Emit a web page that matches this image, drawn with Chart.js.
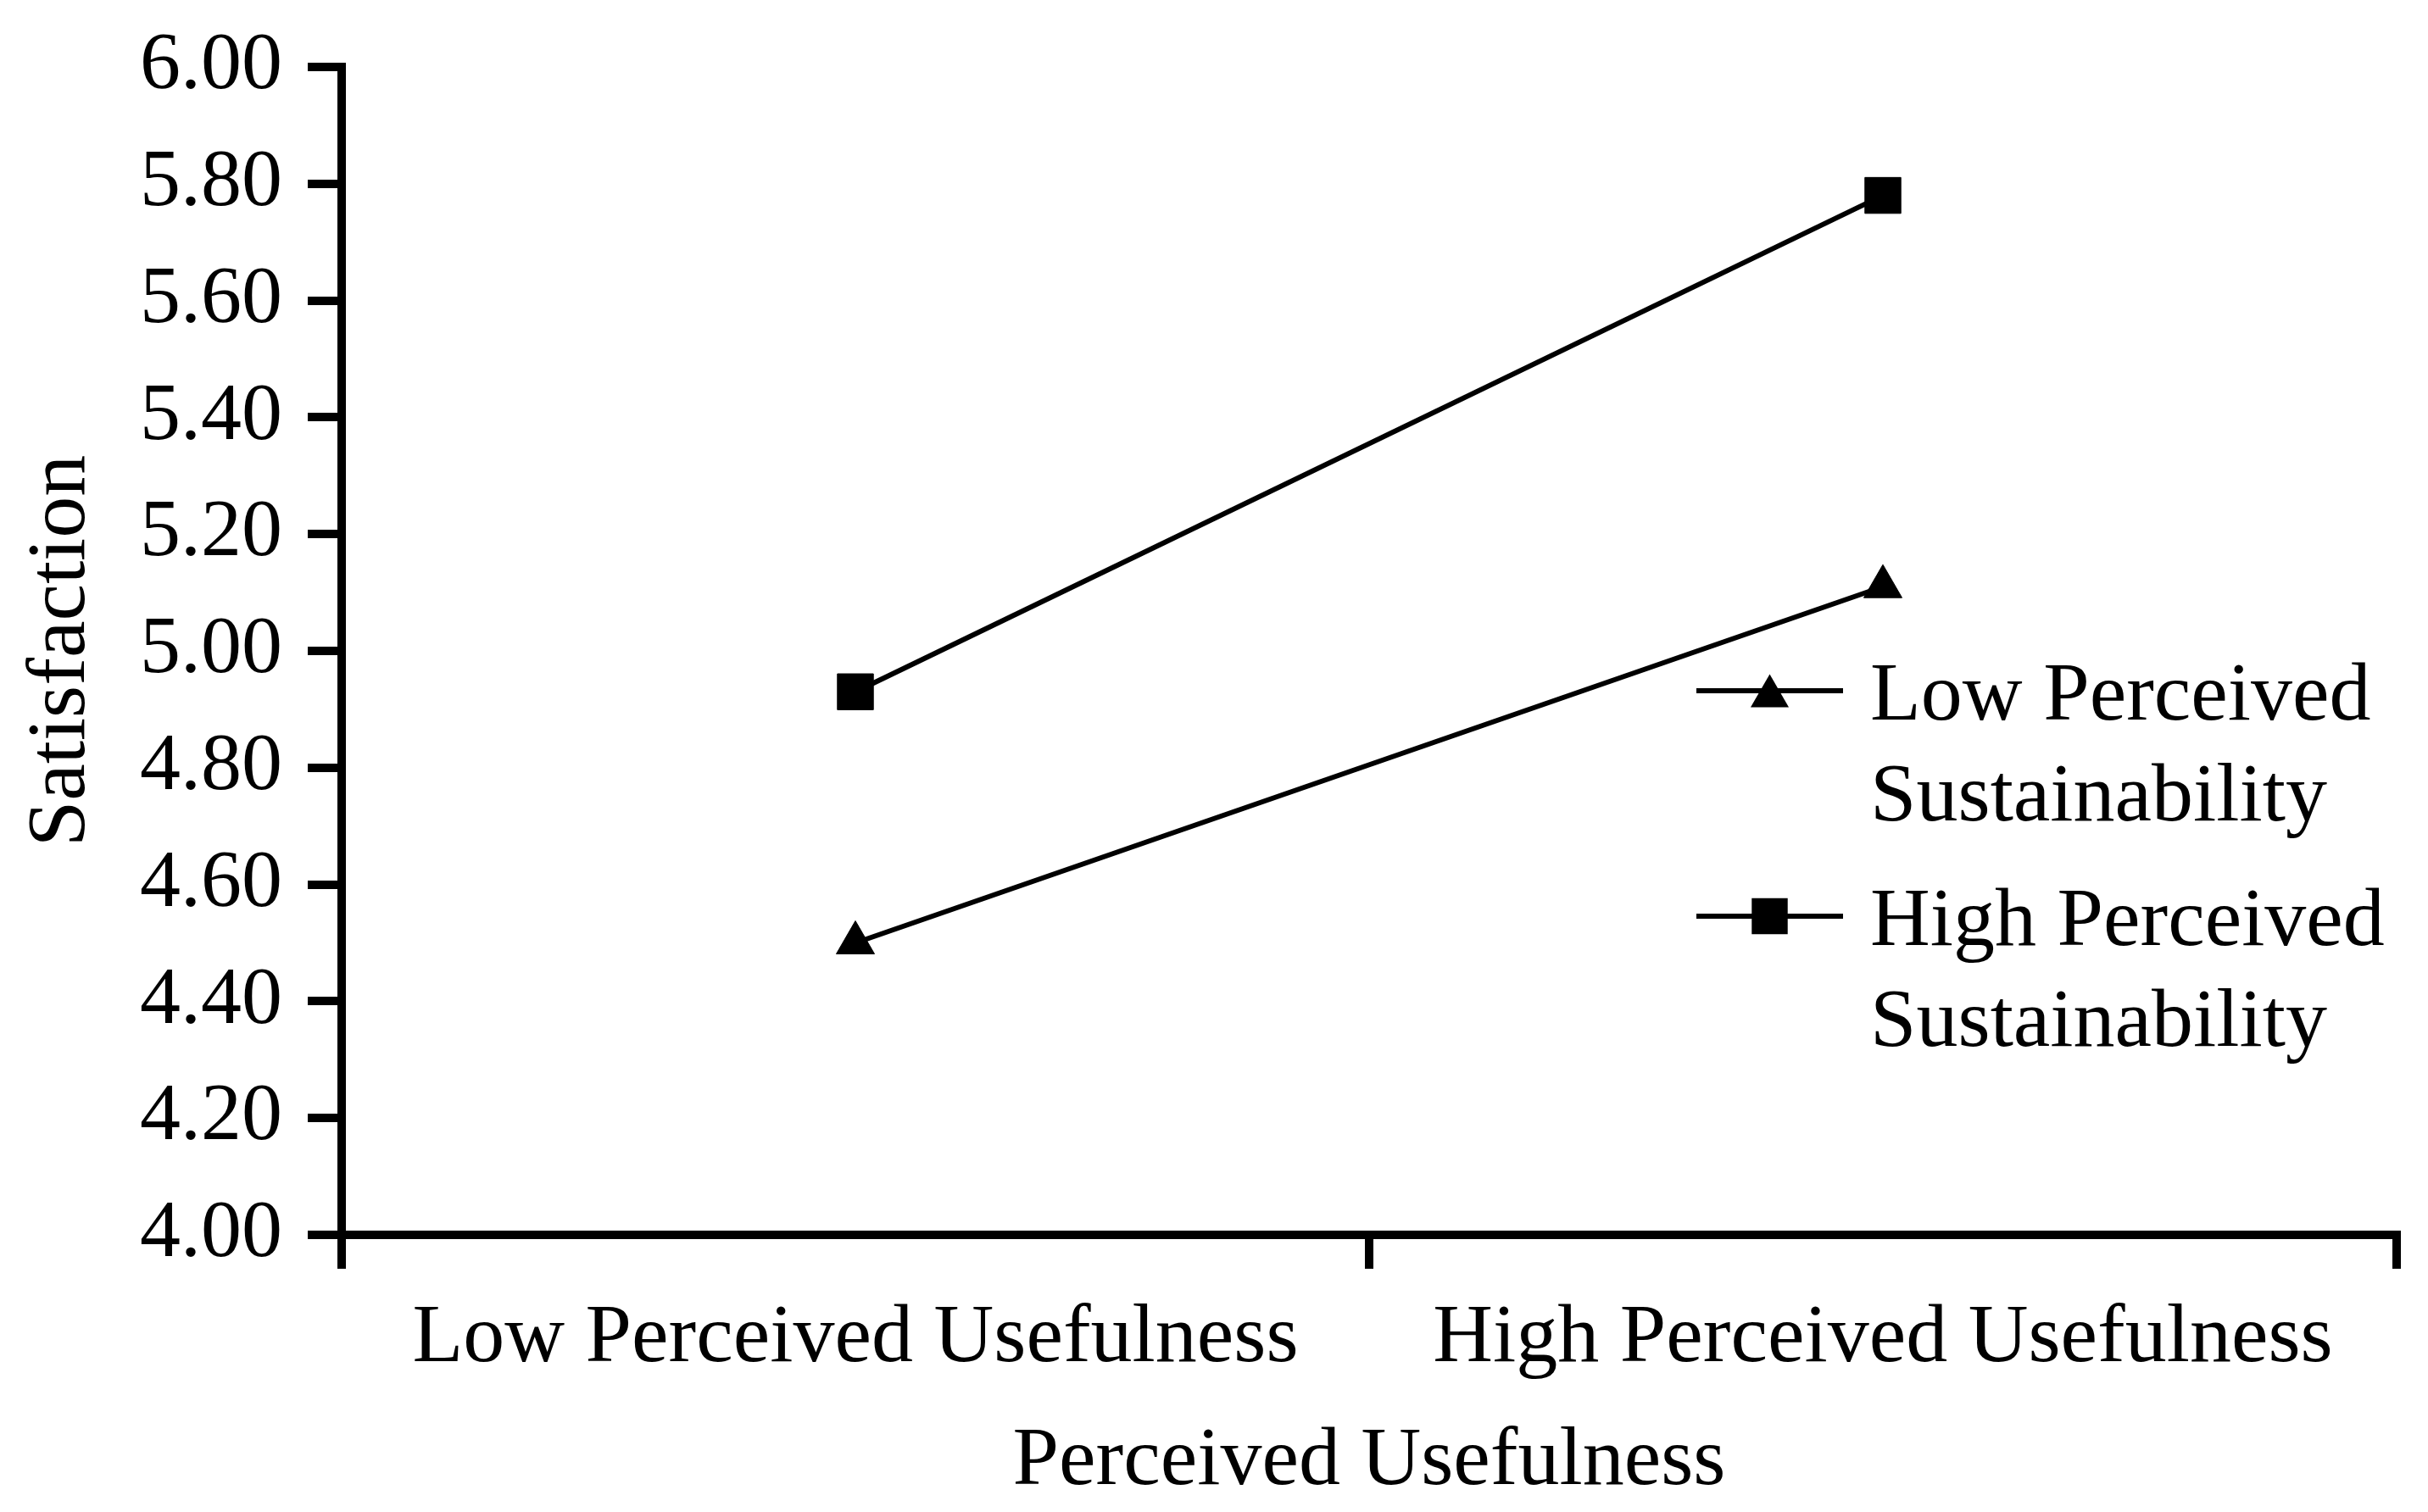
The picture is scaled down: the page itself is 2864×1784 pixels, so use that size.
<!DOCTYPE html>
<html>
<head>
<meta charset="utf-8">
<title>Satisfaction by Perceived Usefulness</title>
<script src="https://cdn.jsdelivr.net/npm/chart.js@4/dist/chart.umd.min.js"></script>
<style>
  html, body { margin: 0; padding: 0; background: #fff; }
  #wrap { width: 2864px; height: 1784px; }
</style>
</head>
<body>
<div id="wrap"><canvas id="interactionChart"></canvas></div>
<script>
// Values
const categories = ['Low Perceived Usefulness', 'High Perceived Usefulness'];
const lowSustainability = [4.50, 5.11];
const highSustainability = [4.93, 5.78];
const yTickValues = [4.00, 4.20, 4.40, 4.60, 4.80, 5.00, 5.20, 5.40, 5.60, 5.80, 6.00];
const seriesLabels = [
  ['Low Perceived', 'Sustainability'],
  ['High Perceived', 'Sustainability']
];

const FONT = 'Liberation Serif';
const tickFont = { family: FONT, size: 96 };
const textFont = { family: FONT, size: 98 };

// Legend drawn inside the plot, wrapped onto two lines like the original
const seriesLegend = {
  id: 'seriesLegend',
  afterDatasetsDraw(chart, args, opts) {
    const ctx = chart.ctx;
    ctx.save();
    chart.data.datasets.forEach((ds, i) => {
      const y = opts.top + i * opts.rowGap;
      const x1 = opts.left;
      const x2 = opts.left + opts.lineLength;

      ctx.strokeStyle = ds.borderColor;
      ctx.lineWidth = ds.borderWidth;
      ctx.beginPath();
      ctx.moveTo(x1, y);
      ctx.lineTo(x2, y);
      ctx.stroke();

      const r = ds.pointRadius;
      const cx = (x1 + x2) / 2;
      const cy = ds.pointStyle === 'triangle' ? y + r / 4 : y;
      ctx.fillStyle = ds.pointBackgroundColor;
      Chart.helpers.drawPoint(ctx, { pointStyle: ds.pointStyle, radius: r, rotation: 0, borderWidth: 0 }, cx, cy);

      ctx.fillStyle = opts.color;
      ctx.font = `${opts.fontSize}px "${FONT}"`;
      ctx.textAlign = 'left';
      ctx.textBaseline = 'alphabetic';
      seriesLabels[i].forEach((line, j) => {
        ctx.fillText(line, opts.textLeft, y + opts.baselineShift + j * opts.lineGap);
      });
    });
    ctx.restore();
  }
};

const ctx = document.getElementById('interactionChart').getContext('2d');
const interactionChart = new Chart(ctx, {
  type: 'line',
  data: {
    labels: categories,
    datasets: [
      {
        label: seriesLabels[0].join(' '),
        data: lowSustainability,
        borderColor: '#000',
        backgroundColor: '#000',
        pointBackgroundColor: '#000',
        pointBorderColor: '#000',
        borderWidth: 6,
        pointStyle: 'triangle',
        pointRadius: 26,
        pointBorderWidth: 1,
        tension: 0,
        fill: false
      },
      {
        label: seriesLabels[1].join(' '),
        data: highSustainability,
        borderColor: '#000',
        backgroundColor: '#000',
        pointBackgroundColor: '#000',
        pointBorderColor: '#000',
        borderWidth: 6,
        pointStyle: 'rect',
        pointRadius: 30,
        pointBorderWidth: 1,
        tension: 0,
        fill: false
      }
    ]
  },
  options: {
    responsive: true,
    maintainAspectRatio: false,
    animation: false,
    events: [],
    layout: {
      padding: { top: 79, right: 37, bottom: 0, left: 0 }
    },
    plugins: {
      legend: { display: false },
      tooltip: { enabled: false },
      seriesLegend: {
        left: 2001,
        lineLength: 173,
        textLeft: 2206,
        top: 815,
        rowGap: 266,
        baselineShift: 34,
        lineGap: 119,
        fontSize: 98,
        color: '#000'
      }
    },
    scales: {
      x: {
        type: 'category',
        offset: true,
        grid: {
          display: true,
          offset: true,
          drawOnChartArea: false,
          drawTicks: true,
          tickLength: 40,
          lineWidth: 10,
          color: '#000'
        },
        border: { display: true, width: 10, color: '#000' },
        ticks: { font: textFont, color: '#000', padding: 24, maxRotation: 0, autoSkip: false },
        title: {
          display: true,
          text: 'Perceived Usefulness',
          font: textFont,
          color: '#000',
          padding: { top: 0, bottom: 0 }
        },
        afterFit: scale => { scale.height = 327; }
      },
      y: {
        min: 4,
        max: 6,
        afterBuildTicks: scale => {
          scale.ticks = yTickValues.map(v => ({ value: v }));
        },
        grid: {
          display: true,
          drawOnChartArea: false,
          drawTicks: true,
          tickLength: 40,
          lineWidth: 10,
          color: '#000'
        },
        border: { display: true, width: 10, color: '#000' },
        ticks: {
          font: tickFont,
          color: '#000',
          padding: 30,
          callback: value => Number(value).toFixed(2)
        },
        title: {
          display: true,
          text: 'Satisfaction',
          font: textFont,
          color: '#000',
          padding: { top: 14, bottom: 0 }
        },
        afterFit: scale => {
          scale.width = 403;
          scale.paddingTop = 0;
          scale.paddingBottom = 0;
        }
      }
    }
  },
  plugins: [seriesLegend]
});
</script>
</body>
</html>
